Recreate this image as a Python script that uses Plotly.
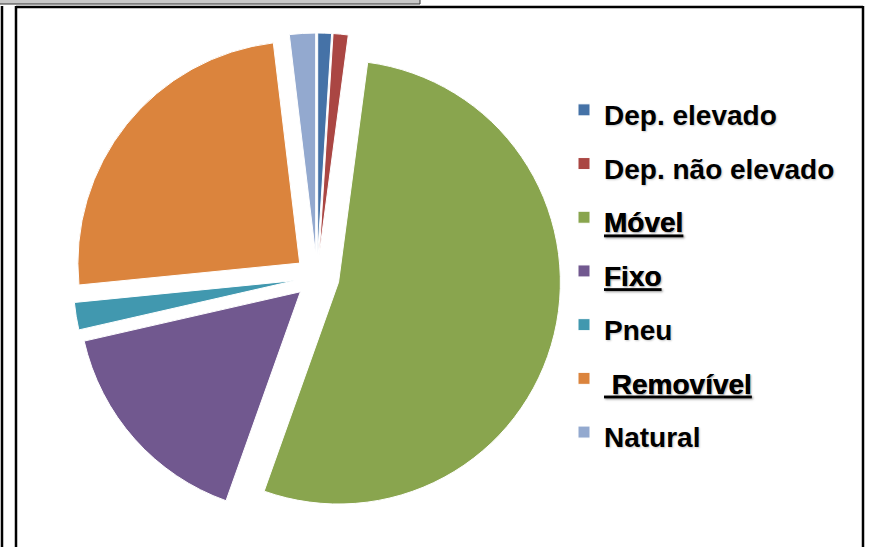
import plotly.graph_objects as go

labels = ["Dep. elevado", "Dep. não elevado", "<u>Móvel</u>", "<u>Fixo</u>",
          "Pneu", "<u> Removível</u>", "Natural"]
values = [1.0, 1.1, 53.4, 16.0, 2.0, 24.7, 1.9]
colors = ["#4572A7", "#AA4643", "#89A54E", "#71588F", "#4198AF", "#DB843D", "#93A9CF"]

W, H = 872, 547

legend_labels = [f'<span style="font-size:28px">{l}</span>' for l in labels]

fig = go.Figure(go.Pie(
    labels=legend_labels,
    values=values,
    sort=False,
    direction="clockwise",
    rotation=0,
    pull=0.1,
    textinfo="none",
    hoverinfo="label+percent",
    marker=dict(colors=colors, line=dict(color="white", width=1)),
    domain=dict(x=[73 / W, 561 / W], y=[1 - 521 / H, 1 - 33 / H]),
))

shapes = [
    # top grey strip
    dict(type="rect", xref="paper", yref="paper",
         x0=-2 / W, x1=420 / W, y0=1 - 4 / H, y1=1 + 2 / H,
         fillcolor="#C8C8C8", line=dict(color="#333333", width=1)),
    # outer left line
    dict(type="line", xref="paper", yref="paper",
         x0=2 / W, x1=2 / W, y0=-0.02, y1=1 - 6 / H,
         line=dict(color="black", width=2.5)),
    # inner frame
    dict(type="line", xref="paper", yref="paper",
         x0=16 / W, x1=16 / W, y0=-0.02, y1=1 - 6 / H,
         line=dict(color="black", width=2.5)),
    dict(type="line", xref="paper", yref="paper",
         x0=16 / W, x1=863 / W, y0=1 - 7 / H, y1=1 - 7 / H,
         line=dict(color="black", width=2.5)),
    dict(type="line", xref="paper", yref="paper",
         x0=863 / W, x1=863 / W, y0=-0.02, y1=1 - 6 / H,
         line=dict(color="black", width=2.5)),
]

fig.update_layout(
    width=W, height=H,
    margin=dict(l=0, r=0, t=0, b=0),
    paper_bgcolor="white",
    plot_bgcolor="white",
    shapes=shapes,
    showlegend=True,
    legend=dict(
        x=564 / W, xanchor="left",
        y=1 - 78 / H, yanchor="top",
        font=dict(family="Liberation Sans, Arial, sans-serif", size=39,
                  color="black", weight="bold",
                  shadow="1px 1px 2px rgba(0,0,0,0.22)"),
        bgcolor="rgba(0,0,0,0)",
        borderwidth=0,
    ),
)

fig.write_html("out.html",
               config={"displayModeBar": False},
               post_script="document.body.style.margin='0';document.body.style.overflow='hidden';")
